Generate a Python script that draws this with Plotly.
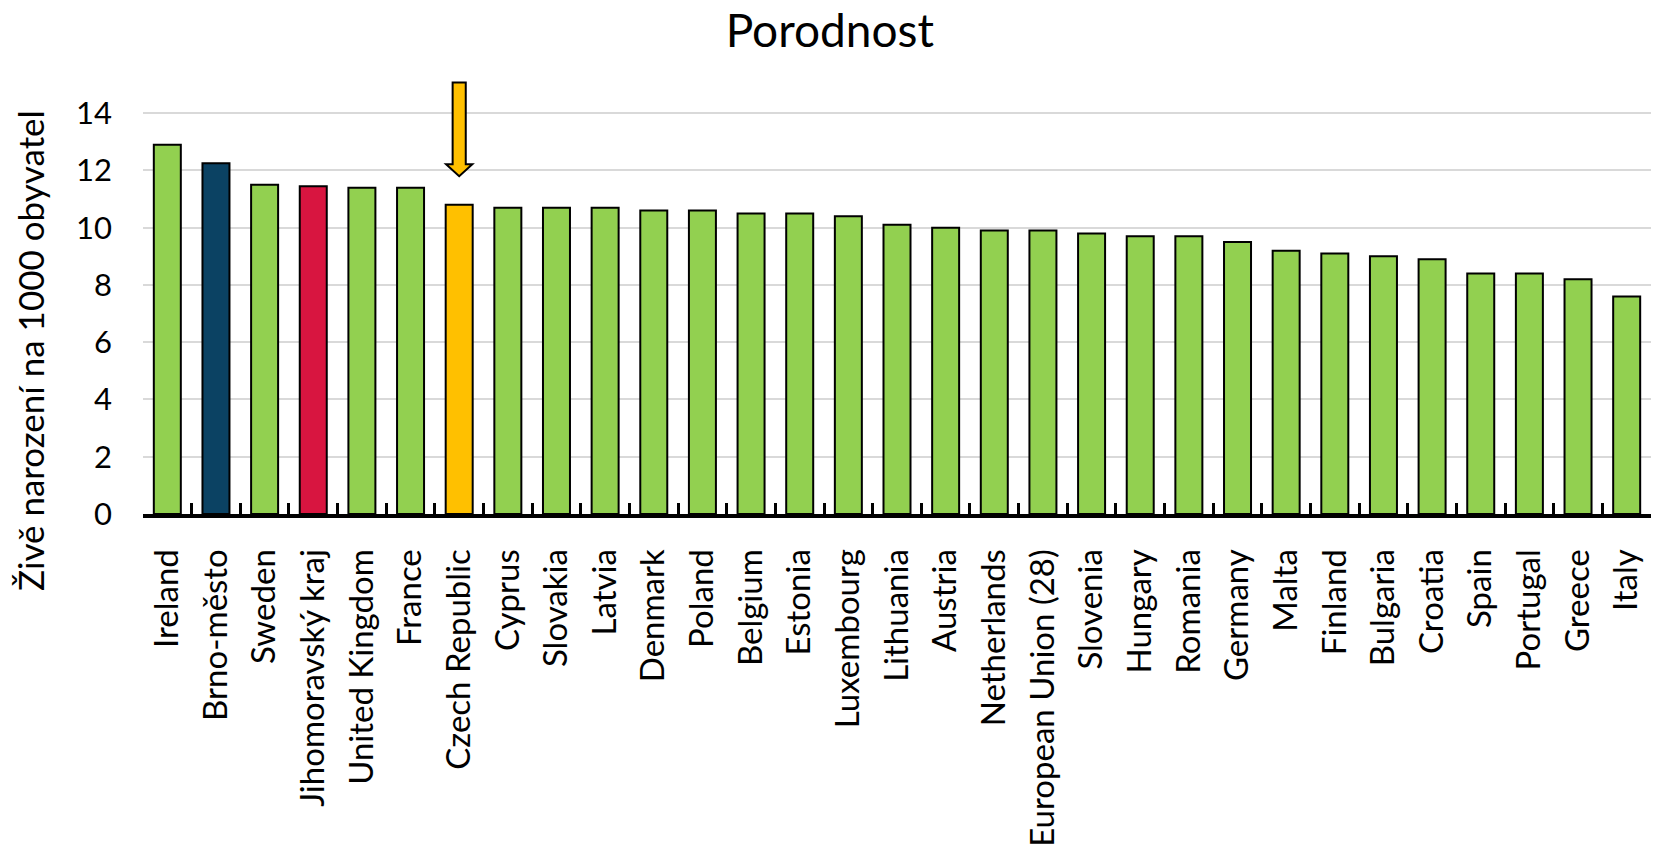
import plotly.graph_objects as go

# ---- data ----
categories = [
    "Ireland", "Brno-město", "Sweden", "Jihomoravský kraj", "United Kingdom", "France",
    "Czech Republic", "Cyprus", "Slovakia", "Latvia", "Denmark", "Poland", "Belgium",
    "Estonia", "Luxembourg", "Lithuania", "Austria", "Netherlands", "European Union (28)",
    "Slovenia", "Hungary", "Romania", "Germany", "Malta", "Finland", "Bulgaria", "Croatia",
    "Spain", "Portugal", "Greece", "Italy",
]
values = [
    12.9, 12.25, 11.5, 11.45, 11.4, 11.4,
    10.8, 10.7, 10.7, 10.7, 10.6, 10.6, 10.5,
    10.5, 10.4, 10.1, 10.0, 9.9, 9.9,
    9.8, 9.7, 9.7, 9.5, 9.2, 9.1, 9.0, 8.9,
    8.4, 8.4, 8.2, 7.6,
]
highlight = {"Brno-město": "#0B4263", "Jihomoravský kraj": "#D81540", "Czech Republic": "#FFC000"}
default_color = "#92D050"
y_ticks = [0, 2, 4, 6, 8, 10, 12, 14]
title_text = "Porodnost"
y_title = "Živě narození na 1000 obyvatel"
arrow_target = "Czech Republic"

colors = [highlight.get(c, default_color) for c in categories]

W, H = 1653, 850
left, right, top, bottom = 143, 2, 76, 336
y_max = 15.3

fig = go.Figure()
fig.add_trace(go.Bar(
    x=categories, y=values,
    marker=dict(color=colors, line=dict(color="black", width=2)),
    hoverinfo="x+y",
))

# arrow above the highlighted bar (data coords relative to the bar)
ai = categories.index(arrow_target)
av = values[ai]
tip, base, tail = av + 1.0, av + 1.42, av + 4.27
sw, hw = 0.135, 0.27
path = (f"M {ai - sw} {tail} L {ai + sw} {tail} L {ai + sw} {base} L {ai + hw} {base} "
        f"L {ai} {tip} L {ai - hw} {base} L {ai - sw} {base} Z")
fig.add_shape(type="path", path=path, xref="x", yref="y",
              fillcolor="#FFC000", line=dict(color="black", width=2), layer="above")

font_family = "Lato"
fig.update_layout(
    width=W, height=H,
    margin=dict(l=left, r=right, t=top, b=bottom, autoexpand=False),
    paper_bgcolor="white", plot_bgcolor="white",
    bargap=0.445,
    showlegend=False,
    font=dict(family=font_family, color="black"),
    title=dict(text=title_text, x=0.502, xref="container", xanchor="center",
               y=1 - 31 / H, yref="container", yanchor="middle",
               font=dict(size=46, family=font_family, color="black")),
    xaxis=dict(
        type="category", tickangle=-90, automargin=False,
        tickfont=dict(size=33, family=font_family, color="black"),
        showline=True, linecolor="black", linewidth=4,
        ticks="inside", tickson="boundaries", ticklen=11, tickwidth=3, tickcolor="black",
        showgrid=False, ticklabelstandoff=18, layer="above traces",
        range=[-0.5, len(categories) - 0.5],
    ),
    yaxis=dict(
        range=[0, y_max], tickvals=y_ticks, automargin=False,
        tickfont=dict(size=31, family=font_family, color="black"),
        showgrid=True, gridcolor="#D9D9D9", gridwidth=2,
        zeroline=False, showline=False, ticks="", ticklabelstandoff=30,
    ),
    annotations=[dict(
        text=y_title, textangle=-90, showarrow=False,
        xref="paper", yref="paper",
        x=(30 - left) / (W - left - right), y=(H - bottom - 351) / (H - top - bottom),
        xanchor="center", yanchor="middle",
        font=dict(size=35, family=font_family, color="black"),
    )],
)

fig.write_html(
    "out.html",
    config={"displayModeBar": False},
    post_script="document.body.style.margin='0';document.body.style.overflow='hidden';",
)
